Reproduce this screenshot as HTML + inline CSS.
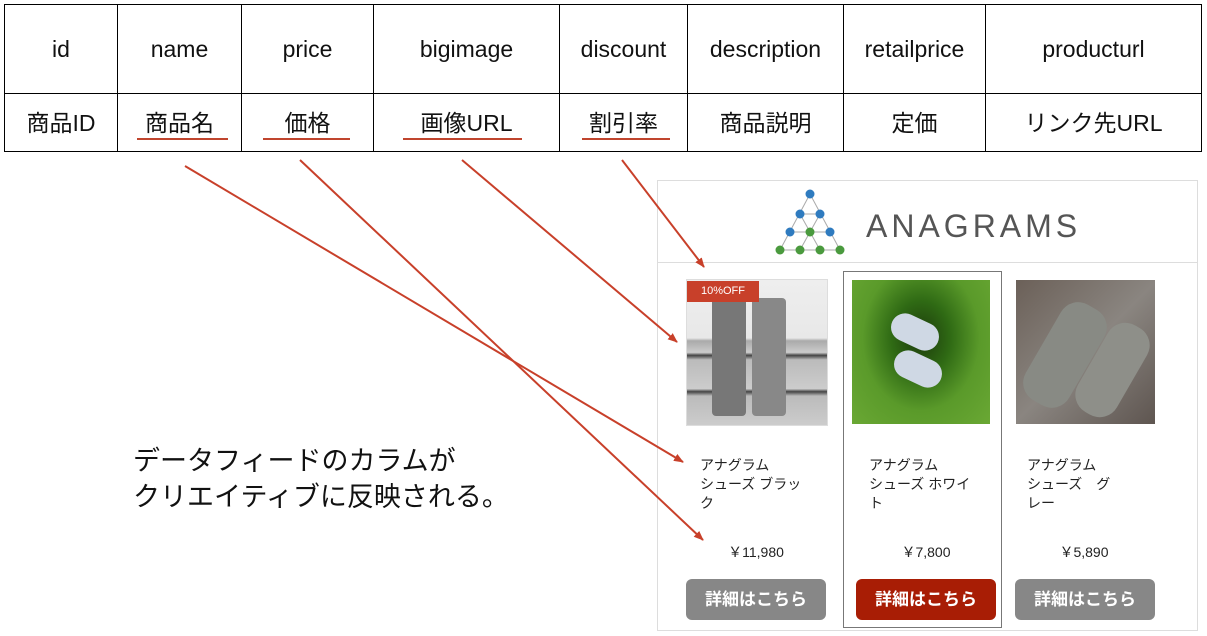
<!DOCTYPE html>
<html><head><meta charset="utf-8"><style>
body{margin:0;width:1207px;height:636px;background:#fff;position:relative;overflow:hidden;font-family:"Liberation Sans","Noto Sans CJK JP",sans-serif;}
.a{position:absolute}
table{position:absolute;left:4px;top:4px;border-collapse:collapse;}
td{border:1.5px solid #000;text-align:center;font-size:23px;color:#111;padding:0;}
.r1 td{height:88px}.r2 td{height:54px;padding-bottom:3px}
.ul{position:absolute;height:2px;background:#c0452e;top:138px}
.card{position:absolute;font-size:14px;color:#222;line-height:19px}
.btn{position:absolute;width:140px;height:41px;border-radius:6px;color:#fff;font-weight:bold;font-size:17px;text-align:center;line-height:41px;background:#878787}
.price{position:absolute;font-size:14px;color:#222;text-align:center;width:140px}
</style></head><body>
<table>
<tr class="r1"><td style="width:112px">id</td><td style="width:123px">name</td><td style="width:131px">price</td><td style="width:185px">bigimage</td><td style="width:127px">discount</td><td style="width:155px">description</td><td style="width:141px">retailprice</td><td style="width:215px">producturl</td></tr>
<tr class="r2"><td>商品ID</td><td>商品名</td><td>価格</td><td>画像URL</td><td>割引率</td><td>商品説明</td><td>定価</td><td>リンク先URL</td></tr>
</table>
<div class="ul" style="left:137px;width:91px"></div>
<div class="ul" style="left:263px;width:87px"></div>
<div class="ul" style="left:403px;width:119px"></div>
<div class="ul" style="left:582px;width:88px"></div>

<div class="a" style="left:657px;top:180px;width:539px;height:449px;border:1px solid #ddd"></div>
<div class="a" style="left:658px;top:262px;width:539px;height:1px;background:#ddd"></div>
<svg class="a" style="left:770px;top:188px" width="80" height="70">
<g stroke="#aaa" stroke-width="1"><line x1="40" y1="6" x2="10" y2="62"/><line x1="40" y1="6" x2="70" y2="62"/><line x1="30" y1="26" x2="50" y2="26"/><line x1="20" y1="44" x2="60" y2="44"/><line x1="10" y1="62" x2="70" y2="62"/><line x1="30" y1="26" x2="50" y2="62"/><line x1="50" y1="26" x2="30" y2="62"/></g>
<g fill="#2f7bbf"><circle cx="40" cy="6" r="4.5"/><circle cx="30" cy="26" r="4.5"/><circle cx="50" cy="26" r="4.5"/><circle cx="20" cy="44" r="4.5"/><circle cx="60" cy="44" r="4.5"/></g>
<g fill="#4a9a3e"><circle cx="40" cy="44" r="4.5"/><circle cx="10" cy="62" r="4.5"/><circle cx="30" cy="62" r="4.5"/><circle cx="50" cy="62" r="4.5"/><circle cx="70" cy="62" r="4.5"/></g>
</svg>
<div class="a" style="left:866px;top:208px;font-size:32px;letter-spacing:4px;color:#555">ANAGRAMS</div>

<div class="a" style="left:843px;top:271px;width:157px;height:355px;border:1.5px solid #777"></div>
<div class="a" style="left:686px;top:279px;width:140px;height:145px;border:1px solid #ddd;background:linear-gradient(#eee 0,#e8e8e8 40%,#aaa 42%,#ccc 50%,#444 52%,#bbb 55%,#ccc 75%,#444 77%,#bbb 80%,#ccc 100%)"></div>
<div class="a" style="left:712px;top:298px;width:34px;height:118px;background:#777;border-radius:4px"></div>
<div class="a" style="left:752px;top:298px;width:34px;height:118px;background:#888;border-radius:4px"></div>
<div class="a" style="left:687px;top:281px;width:72px;height:21px;background:#c8402a;color:#fff;font-size:11px;line-height:21px;text-align:center">10%OFF</div>
<div class="a" style="left:852px;top:280px;width:138px;height:144px;background:radial-gradient(ellipse at 50% 40%,#1c3a0c 0,#2f6a14 30%,#5a9a2a 60%,#6aa834 100%)"></div>
<div class="a" style="left:890px;top:318px;width:50px;height:28px;background:#cfd8e4;border-radius:14px;transform:rotate(25deg)"></div>
<div class="a" style="left:893px;top:355px;width:50px;height:28px;background:#cfd8e4;border-radius:14px;transform:rotate(25deg)"></div>
<div class="a" style="left:1016px;top:280px;width:139px;height:144px;background:linear-gradient(135deg,#6b6058,#8a8580 50%,#5e5550)"></div>
<div class="a" style="left:1040px;top:300px;width:50px;height:110px;background:#888a84;border-radius:20px;transform:rotate(30deg)"></div>
<div class="a" style="left:1090px;top:320px;width:45px;height:100px;background:#8e8f89;border-radius:20px;transform:rotate(30deg)"></div>

<div class="card" style="left:700px;top:456px">アナグラム<br>シューズ ブラッ<br>ク</div>
<div class="card" style="left:869px;top:456px">アナグラム<br>シューズ ホワイ<br>ト</div>
<div class="card" style="left:1027px;top:456px">アナグラム<br>シューズ　グ<br>レー</div>
<div class="price" style="left:686px;top:542px">￥11,980</div>
<div class="price" style="left:856px;top:542px">￥7,800</div>
<div class="price" style="left:1014px;top:542px">￥5,890</div>
<div class="btn" style="left:686px;top:579px">詳細はこちら</div>
<div class="btn" style="left:856px;top:579px;background:#a81d05">詳細はこちら</div>
<div class="btn" style="left:1015px;top:579px">詳細はこちら</div>

<div class="a" style="left:133px;top:443px;font-size:27px;line-height:36px;color:#111">データフィードのカラムが<br>クリエイティブに反映される。</div>

<svg class="a" style="left:0;top:0" width="1207" height="636">
<defs><marker id="m" markerWidth="10" markerHeight="8" refX="9" refY="4" orient="auto" markerUnits="userSpaceOnUse"><path d="M0,0L10,4L0,8z" fill="#c8402a"/></marker></defs>
<g stroke="#c8402a" stroke-width="2" fill="none" marker-end="url(#m)">
<line x1="185" y1="166" x2="683" y2="462"/>
<line x1="300" y1="160" x2="703" y2="540"/>
<line x1="462" y1="160" x2="677" y2="342"/>
<line x1="622" y1="160" x2="704" y2="267"/>
</g></svg>
</body></html>
